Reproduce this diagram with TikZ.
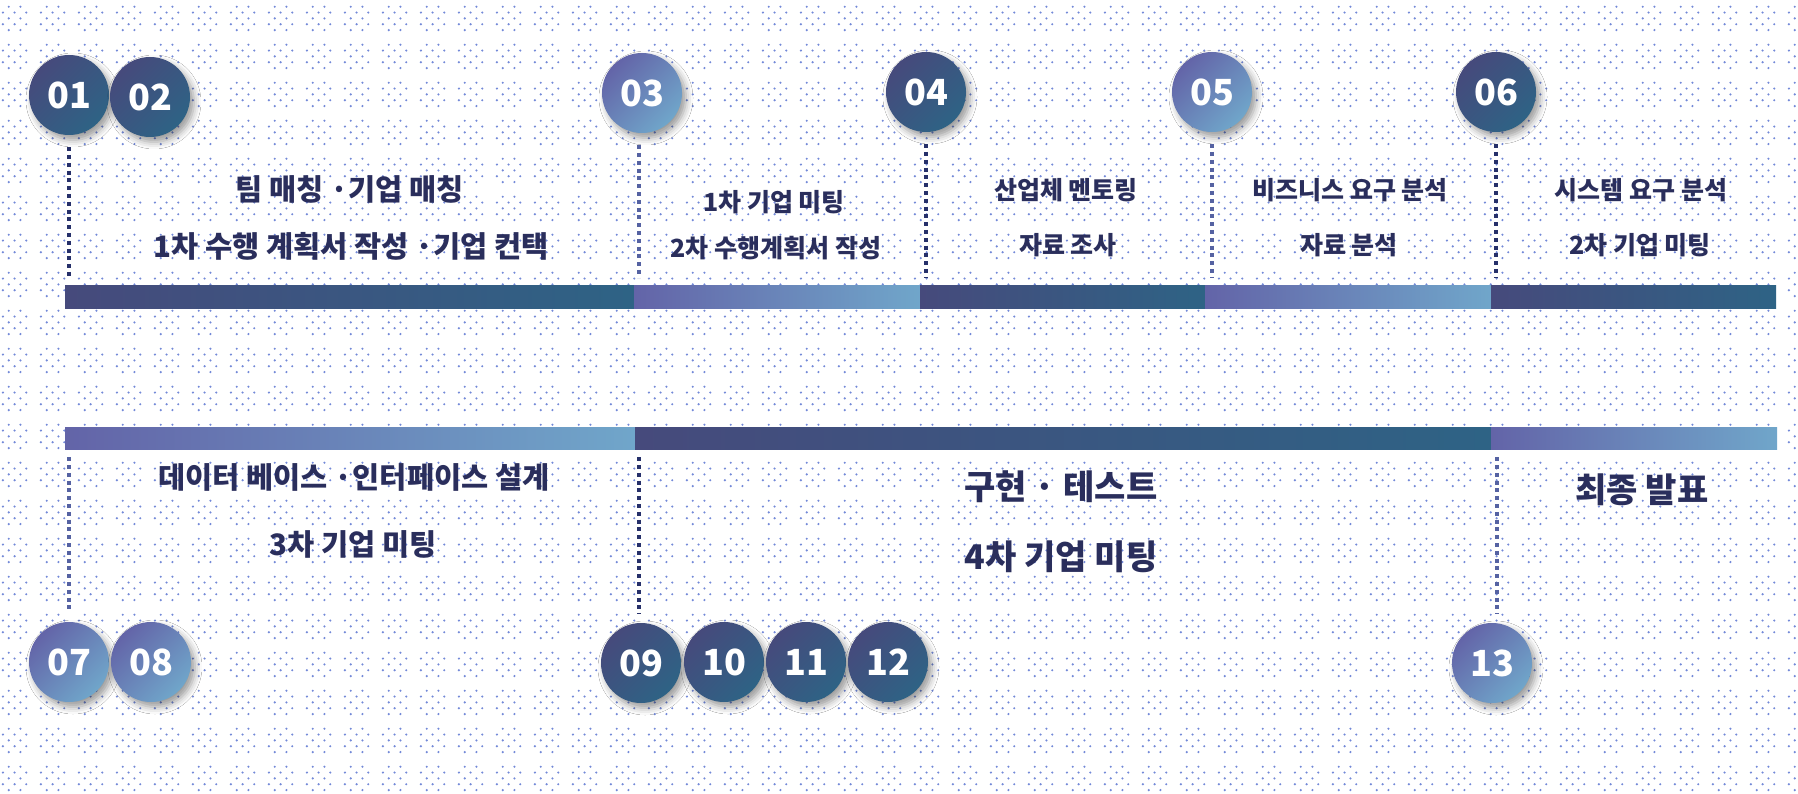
\documentclass[tikz,border=0pt]{standalone}
\usepackage{fontspec}
\newfontfamily\kr{Noto Sans CJK KR}
\usetikzlibrary{patterns,shadows.blur}
\definecolor{darkA}{HTML}{464A7C}
\definecolor{darkB}{HTML}{2E6385}
\definecolor{lightA}{HTML}{6364A8}
\definecolor{lightB}{HTML}{70A6CA}
\definecolor{navy}{HTML}{2A2E5C}
\definecolor{dotblue}{HTML}{7389D8}
\definecolor{lined}{HTML}{26306A}
\definecolor{linel}{HTML}{5562A2}
\pgfdeclarepatternformonly{halftone}{\pgfpointorigin}{\pgfpoint{38pt}{38pt}}{\pgfpoint{38pt}{38pt}}{%
  \foreach \r in {0,...,4}{\foreach \c in {0,...,4}{%
    \pgfmathtruncatemacro\odd{mod(\r+\c,2)}%
    \ifnum\odd=1 \pgfpathcircle{\pgfpoint{\c*6pt+4pt}{\r*6pt+4pt}}{1.2pt}\fi}}%
  \pgfusepath{fill}}
\tikzset{
  circbase/.style={circle, minimum size=80pt, inner sep=0pt, text=white,
    font=\kr\bfseries\fontsize{36}{40}\selectfont, text height=26.3pt, text depth=0pt,
    blur shadow={shadow xshift=4pt, shadow yshift=-5pt, shadow blur radius=7pt, shadow opacity=40}},
  dcirc/.style={circbase, top color=darkA, bottom color=darkB, shading angle=45},
  lcirc/.style={circbase, top color=lightA, bottom color=lightB, shading angle=45},
  barbase/.style={rectangle, inner sep=0pt, anchor=west},
  dbar/.style={barbase, left color=darkA, right color=darkB},
  lbar/.style={barbase, left color=lightA, right color=lightB},
  dotd/.style={draw=lined, line width=4.2pt, dash pattern=on 4pt off 3.8pt},
  dotl/.style={draw=linel, line width=3.8pt, dash pattern=on 4pt off 3.8pt},
  txt/.style={inner sep=0pt, text=navy},
  tA/.style={txt, font=\kr\bfseries\fontsize{29.5}{32}\selectfont, text height=23.6pt, text depth=2.1pt},
  tB/.style={txt, font=\kr\bfseries\fontsize{25}{28}\selectfont, text height=20pt, text depth=1.8pt},
  tC/.style={txt, font=\kr\bfseries\fontsize{34}{38}\selectfont, text height=27.2pt, text depth=2.4pt},
}
\begin{document}
\begin{tikzpicture}[x=1pt,y=-1pt]
\useasboundingbox (0,0) rectangle (1798,794);
\fill[white] (0,0) rectangle (1798,794);
\fill[pattern=halftone, pattern color=dotblue] (0,0) rectangle (1798,794);

% top bar segments
\node[dbar, minimum width=569pt, minimum height=23pt] (t1) at (65,296.5) {};
\node[lbar, minimum width=286pt, minimum height=23pt] (t2) at (634,296.5) {};
\node[dbar, minimum width=285pt, minimum height=23pt] (t3) at (920,296.5) {};
\node[lbar, minimum width=286pt, minimum height=23pt] (t4) at (1205,296.5) {};
\node[dbar, minimum width=285pt, minimum height=23pt] (t5) at (1491,296.5) {};

% bottom bar segments
\node[lbar, minimum width=570pt, minimum height=22pt] (b1) at (65,438) {};
\node[dbar, minimum width=856pt, minimum height=22pt] (b2) at (635,438) {};
\node[lbar, minimum width=286pt, minimum height=22pt] (b3) at (1491,438) {};

% top circles
\node[dcirc] (c01) at (69,95) {01};
\node[dcirc] (c02) at (150,97) {02};
\node[lcirc] (c03) at (642,93) {03};
\node[dcirc] (c04) at (926,92) {04};
\node[lcirc] (c05) at (1212,92) {05};
\node[dcirc] (c06) at (1496,92) {06};

% bottom circles
\node[lcirc] (c07) at (69,662) {07};
\node[lcirc] (c08) at (151,662) {08};
\node[dcirc] (c09) at (641,663) {09};
\node[dcirc] (c10) at (724,662) {10};
\node[dcirc] (c11) at (806,662) {11};
\node[dcirc] (c12) at (888,662) {12};
\node[lcirc] (c13) at (1492,663) {13};

% dotted connectors top
\draw[dotd, shorten <=12pt, shorten >=7pt] (c01.south) -- (c01.south |- t1.north);
\draw[dotl, shorten <=12pt, shorten >=7pt] ([xshift=-3pt]c03.south) -- ([xshift=-3pt]c03.south |- t2.north);
\draw[dotd, shorten <=12pt, shorten >=7pt] (c04.south) -- (c04.south |- t3.north);
\draw[dotl, shorten <=12pt, shorten >=7pt] (c05.south) -- (c05.south |- t4.north);
\draw[dotd, shorten <=12pt, shorten >=7pt] (c06.south) -- (c06.south |- t5.north);

% dotted connectors bottom
\draw[dotl, shorten <=8pt, shorten >=9pt] (b1.south -| c07.north) -- (c07.north);
\draw[dotd, shorten <=8pt, shorten >=9pt] ([xshift=-2pt]b2.south -| c09.north) -- ([xshift=-2pt]c09.north);
\draw[dotl, shorten <=8pt, shorten >=9pt] ([xshift=5pt]b3.south -| c13.north) -- ([xshift=5pt]c13.north);

% top texts
\node[tA] (x1a) at (350,190) {팀 매칭 ·기업 매칭};
\node[tA] (x1b) at (351,247) {1차 수행 계획서 작성 ·기업 컨택};
\node[tB] (x2a) at (774,202) {1차 기업 미팅};
\node[tB] (x2b) at (776,248) {2차 수행계획서 작성};
\node[tB] (x3a) at (1066,190) {산업체 멘토링};
\node[tB] (x3b) at (1068,245) {자료 조사};
\node[tB] (x4a) at (1350,190) {비즈니스 요구 분석};
\node[tB] (x4b) at (1349,245) {자료 분석};
\node[tB] (x5a) at (1641,190) {시스템 요구 분석};
\node[tB] (x5b) at (1640,245) {2차 기업 미팅};

% bottom texts
\node[tA] (y1a) at (354,478) {데이터 베이스 ·인터페이스 설계};
\node[tA] (y1b) at (353,545) {3차 기업 미팅};
\node[tC] (y2a) at (1061,487) {구현 · 테스트};
\node[tC] (y2b) at (1061,557) {4차 기업 미팅};
\node[tC] (y3a) at (1642,490) {최종 발표};
\end{tikzpicture}
\end{document}
